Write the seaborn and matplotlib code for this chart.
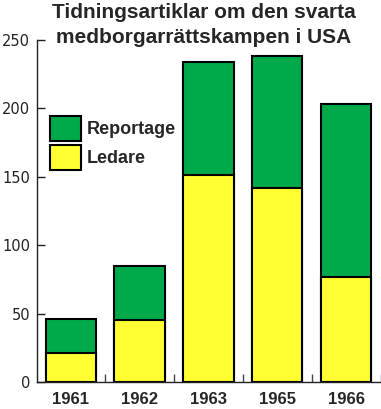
import pandas as pd
import seaborn as sns
import matplotlib.pyplot as plt
from matplotlib.ticker import FixedLocator

# Data
years = ["1961", "1962", "1963", "1965", "1966"]
ledare = [21, 45, 151, 142, 77]
reportage = [25, 40, 83, 96, 126]

GREEN = "#00aa4b"
YELLOW = "#ffff33"

df = pd.DataFrame({"year": years, "ledare": ledare, "reportage": reportage})
df["total"] = df["ledare"] + df["reportage"]

sns.set_style("white")
plt.rcParams["font.family"] = ["Liberation Sans", "DejaVu Sans"]

fig = plt.figure(figsize=(3.81, 4.09), dpi=100)
ax = fig.add_axes([0.097, 0.066, 0.903, 0.837])

# stacked bars: total (green) behind, ledare (yellow) in front
sns.barplot(data=df, x="year", y="total", color=GREEN, edgecolor="black",
            linewidth=1.5, width=0.73, saturation=1, label="Reportage", ax=ax)
sns.barplot(data=df, x="year", y="ledare", color=YELLOW, edgecolor="black",
            linewidth=1.5, width=0.73, saturation=1, label="Ledare", ax=ax)

ax.set_ylim(0, 250)
ax.set_xlim(-0.49, 4.505)
ax.set_yticks(range(0, 251, 50))
ax.set_xlabel("")
ax.set_ylabel("")

for s in ("top", "right"):
    ax.spines[s].set_visible(False)
for s in ("left", "bottom"):
    ax.spines[s].set_color("#222222")
    ax.spines[s].set_linewidth(1.0)

ax.tick_params(axis="y", direction="in", length=6, width=1, color="#222222",
               pad=5, labelsize=10.5, left=True)
for lbl in ax.get_yticklabels():
    lbl.set_fontfamily("DejaVu Sans")
    lbl.set_color("#222222")

ax.tick_params(axis="x", which="major", length=0, pad=7)
for lbl in ax.get_xticklabels():
    lbl.set_fontweight("bold")
    lbl.set_fontsize(12)
ax.xaxis.set_minor_locator(FixedLocator([0.5, 1.5, 2.5, 3.5, 4.5]))
ax.tick_params(axis="x", which="minor", direction="in", length=6, width=1,
               color="#444444", bottom=True)

ax.legend(loc="upper left", bbox_to_anchor=(0.038, 0.778), frameon=False,
          borderpad=0, borderaxespad=0, handlelength=1.7, handleheight=1.8,
          labelspacing=0.2, handletextpad=0.35,
          prop={"weight": "bold", "size": 13})

fig.text(0.535, 0.992, "Tidningsartiklar om den svarta\nmedborgarrättskampen i USA",
         ha="center", va="top", fontsize=15, fontweight="bold", linespacing=1.4)

fig.savefig("out.png", dpi=100)
